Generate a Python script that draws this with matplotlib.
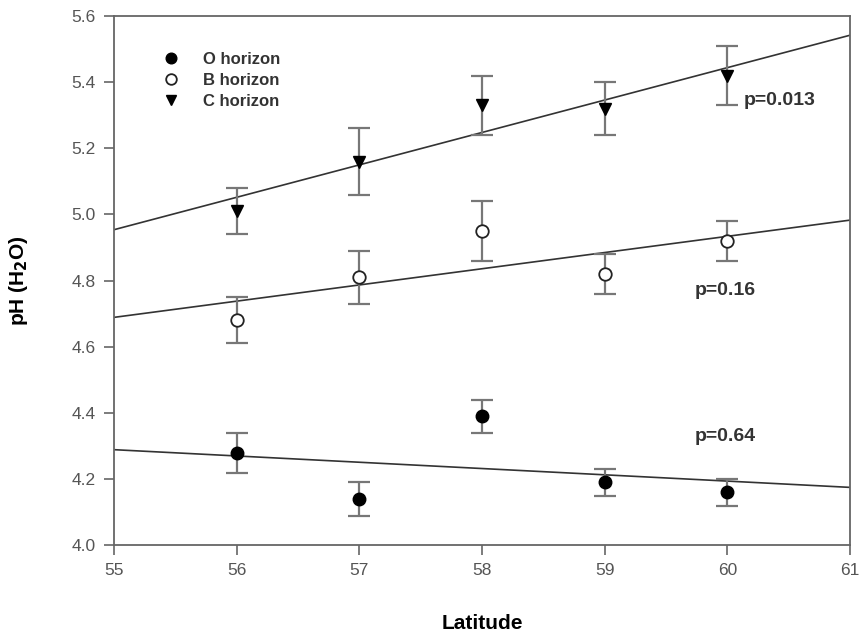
import numpy as np
import matplotlib.pyplot as plt

plt.rcParams['font.family'] = ['Liberation Sans', 'DejaVu Sans']

# Latitude (deg N) and soil pH by horizon, mean +/- error
latitude = [56, 57, 58, 59, 60]

o_ph = [4.28, 4.14, 4.39, 4.19, 4.16]
o_err = [0.06, 0.05, 0.05, 0.04, 0.04]

b_ph = [4.68, 4.81, 4.95, 4.82, 4.92]
b_err = [0.07, 0.08, 0.09, 0.06, 0.06]

c_ph = [5.01, 5.16, 5.33, 5.32, 5.42]
c_err = [0.07, 0.10, 0.09, 0.08, 0.09]

p_labels = ['p=0.64', 'p=0.16', 'p=0.013']
p_pos = [(59.73, 4.33), (59.73, 4.77), (60.13, 5.345)]

fig = plt.figure(figsize=(8.64, 6.4), dpi=100)
ax = fig.add_axes([0.132, 0.148, 0.852, 0.827])

series = [
    ('O horizon', o_ph, o_err, dict(marker='o', mfc='black', mec='black', ms=9)),
    ('B horizon', b_ph, b_err, dict(marker='o', mfc='white', mec='#222222', ms=9, mew=1.3)),
    ('C horizon', c_ph, c_err, dict(marker='v', mfc='black', mec='black', ms=9)),
]

xs = np.array([55, 61])
for name, y, err, style in series:
    # regression line across the whole axis
    k, d = np.polyfit(latitude, y, 1)
    ax.plot(xs, k * xs + d, color='#333333', lw=1.2, zorder=2)
    ax.errorbar(latitude, y, yerr=err, fmt='none', ecolor='#777777',
                elinewidth=1.6, capsize=8, capthick=1.6, zorder=3)
    ax.plot(latitude, y, ls='none', label=name, zorder=4, **style)

for txt, (px, py) in zip(p_labels, p_pos):
    ax.text(px, py, txt, fontsize=14, fontweight='bold', color='#333333',
            va='center', ha='left')

ax.set_xlim(55, 61)
ax.set_ylim(4.0, 5.6)
ax.set_xticks([55, 56, 57, 58, 59, 60, 61])
ax.set_yticks(np.arange(4.0, 5.61, 0.2))
ax.yaxis.set_major_formatter(plt.FormatStrFormatter('%.1f'))

for s in ax.spines.values():
    s.set_color('#666666')
    s.set_linewidth(1.3)
ax.tick_params(direction='out', length=7, width=1.2, color='#666666',
               labelcolor='#555555', labelsize=12.5, pad=6)

ax.set_xlabel('Latitude', fontsize=15, fontweight='bold', labelpad=26)
ax.set_ylabel('pH (H$_\\mathbf{2}$O)', fontsize=15, fontweight='bold', labelpad=30)

leg = ax.legend(loc='upper left', bbox_to_anchor=(0.035, 0.96), frameon=False,
                fontsize=12, handletextpad=0.9, labelspacing=0.35,
                markerscale=0.85)
for t in leg.get_texts():
    t.set_color('#333333')
    t.set_fontweight('bold')

fig.savefig('out.png', dpi=100)
